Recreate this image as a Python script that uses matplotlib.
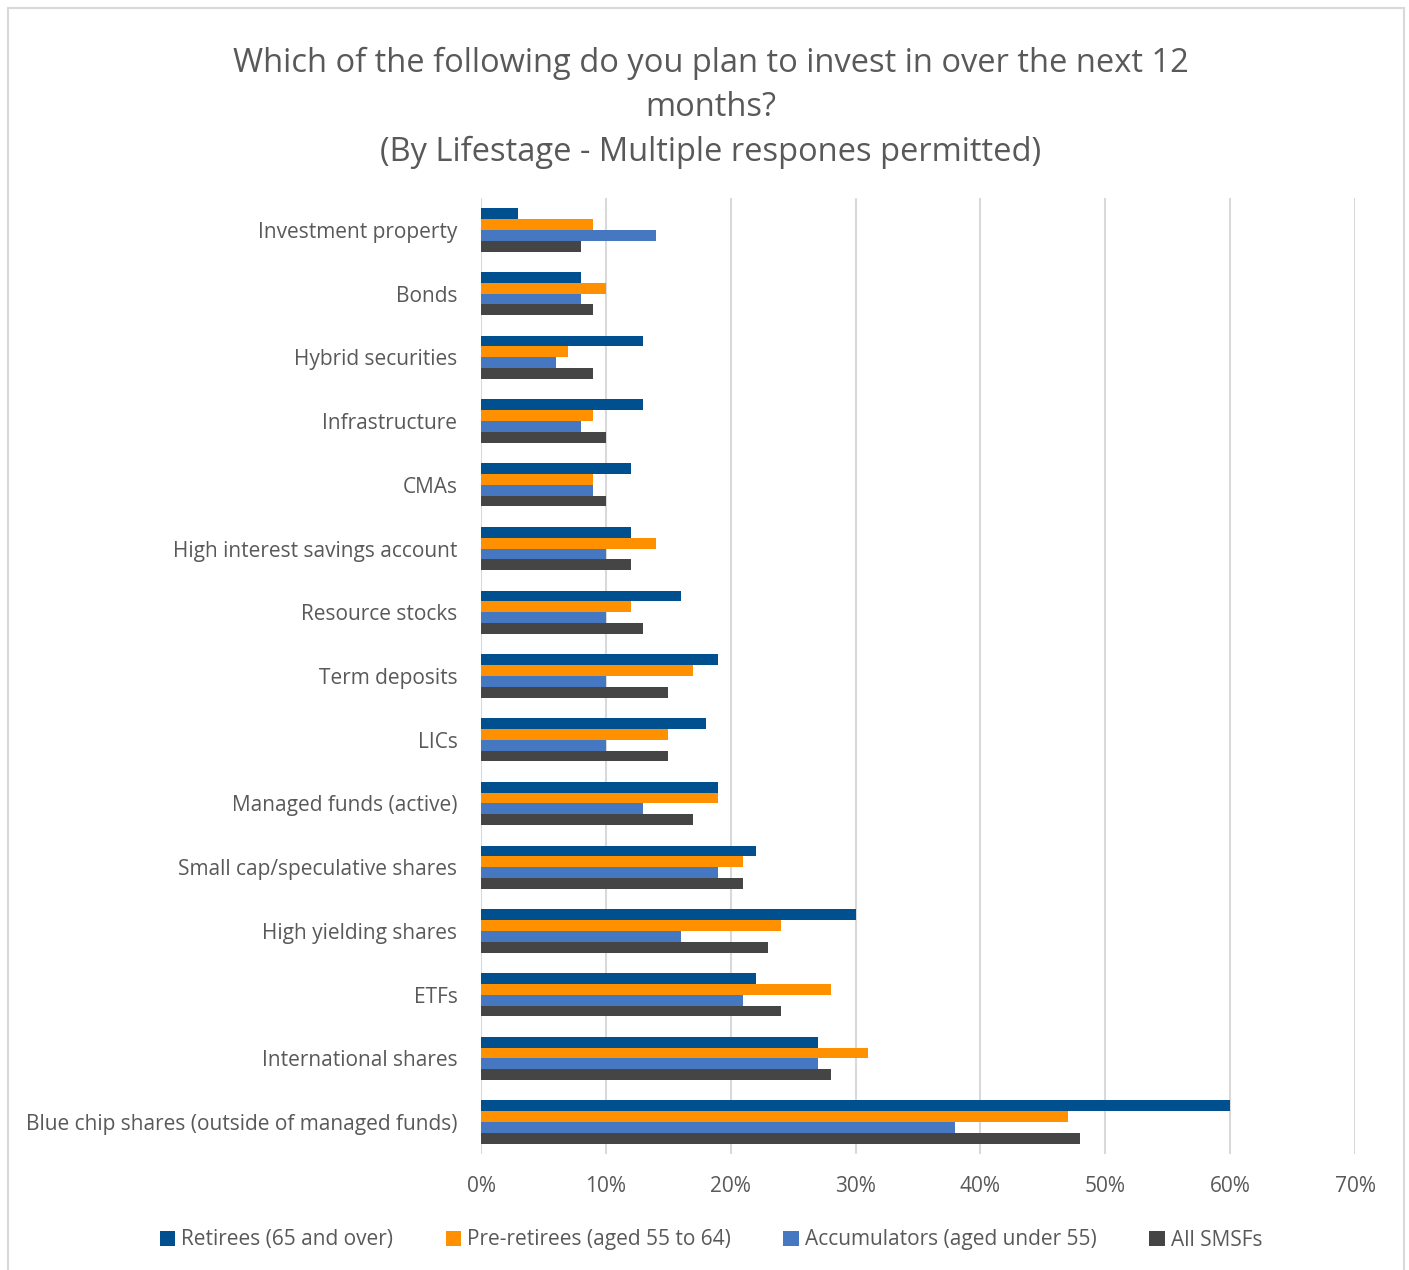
import matplotlib.pyplot as plt
import numpy as np
from matplotlib.patches import Rectangle

plt.rcParams['font.family'] = ['Open Sans', 'DejaVu Sans']

categories = ['Investment property', 'Bonds', 'Hybrid securities', 'Infrastructure',
              'CMAs', 'High interest savings account', 'Resource stocks', 'Term deposits',
              'LICs', 'Managed funds (active)', 'Small cap/speculative shares',
              'High yielding shares', 'ETFs', 'International shares',
              'Blue chip shares (outside of managed funds)']
retirees = [3, 8, 13, 13, 12, 12, 16, 19, 18, 19, 22, 30, 22, 27, 60]
pre_retirees = [9, 10, 7, 9, 9, 14, 12, 17, 15, 19, 21, 24, 28, 31, 47]
accumulators = [14, 8, 6, 8, 9, 10, 10, 10, 10, 13, 19, 16, 21, 27, 38]
all_smsfs = [8, 9, 9, 10, 10, 12, 13, 15, 15, 17, 21, 23, 24, 28, 48]

series = [
    ('Retirees (65 and over)', retirees, '#00508F'),
    ('Pre-retirees (aged 55 to 64)', pre_retirees, '#FF9100'),
    ('Accumulators (aged under 55)', accumulators, '#4677C1'),
    ('All SMSFs', all_smsfs, '#454545'),
]

W, H = 1409, 1270
fig = plt.figure(figsize=(W / 100, H / 100), dpi=100)
ax = fig.add_axes([481 / W, 1 - 1154 / H, (1355 - 481) / W, (1154 - 198) / H])

y = np.arange(len(categories))
bh = 0.17
for i, (name, vals, col) in enumerate(series):
    ax.barh(y + (i - 1.5) * bh, vals, height=bh, color=col, label=name, zorder=3)

ax.set_ylim(len(categories) - 0.5, -0.5)
ax.set_yticks(y)
ax.set_yticklabels(categories, fontsize=15, color='#595959')
ax.set_xlim(0, 70)
ax.set_xticks(range(0, 71, 10))
ax.set_xticklabels([f'{v}%' for v in range(0, 71, 10)], fontsize=15, color='#595959')
ax.tick_params(length=0)
ax.tick_params(axis='x', pad=16)
ax.tick_params(axis='y', pad=17)
ax.grid(axis='x', color='#D9D9D9', linewidth=1.5, zorder=0)
for s in ax.spines.values():
    s.set_visible(False)

fig.text(711 / W, 1 - 108 / H,
         'Which of the following do you plan to invest in over the next 12\nmonths?\n(By Lifestage - Multiple respones permitted)',
         ha='center', va='center', fontsize=23.5, color='#595959', linespacing=1.45)

fig.legend(loc='center', bbox_to_anchor=(711 / W, 1 - 1240 / H), ncol=4, frameon=False,
           fontsize=15, labelcolor='#595959', handlelength=0.75, handleheight=0.75,
           handletextpad=0.3, columnspacing=2.5)

fig.patches.append(Rectangle((8 / W, -0.01), (1404 - 8) / W, 1 - 8 / H + 0.01,
                             transform=fig.transFigure, fill=False,
                             edgecolor='#D9D9D9', linewidth=1.5))

fig.savefig('out.png', dpi=100)
